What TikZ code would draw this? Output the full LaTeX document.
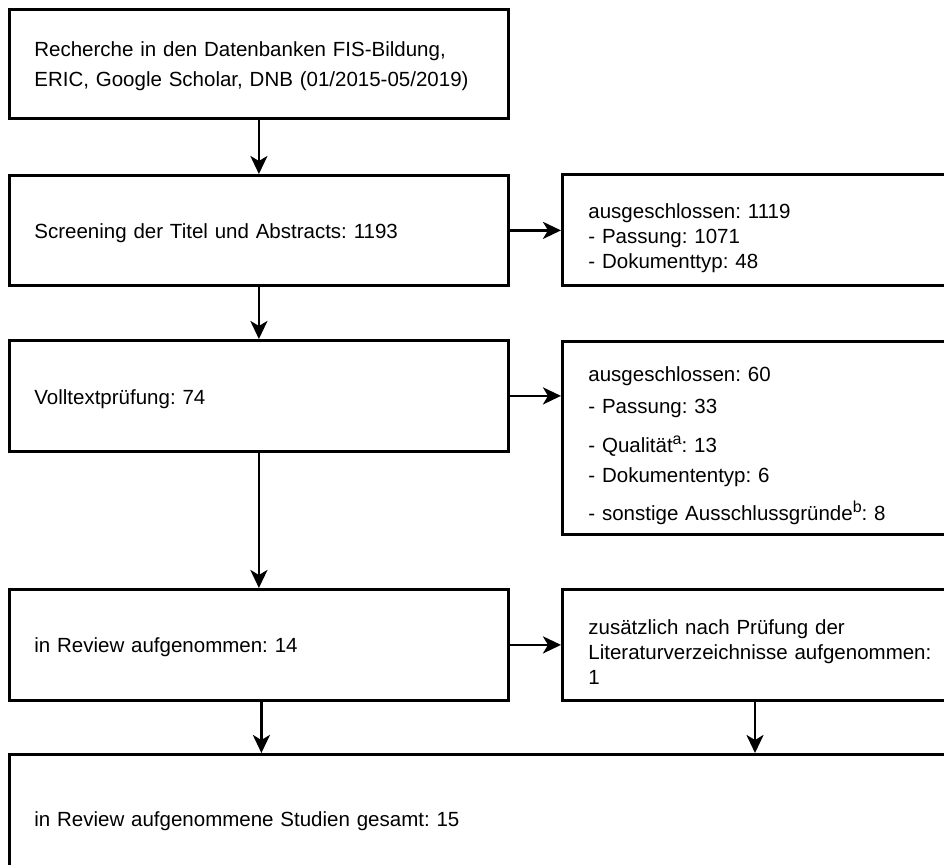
\documentclass[tikz,border=0pt]{standalone}
\usepackage{fontspec}
\setmainfont{Liberation Sans}
\usetikzlibrary{arrows.meta}
\frenchspacing
\newcommand{\supmark}[1]{\raisebox{8pt}{\fontsize{16}{16}\selectfont #1}}
\newcommand{\topgap}{\rule{0pt}{31pt}}
\begin{document}
\begin{tikzpicture}[x=1pt,y=-1pt,
  box/.style={draw=black, line width=2.8pt, rectangle, anchor=north west,
    align=left, inner xsep=25pt, inner ysep=0pt,
    font=\fontsize{20.5}{25}\selectfont\frenchspacing},
  lbox/.style={box, minimum width=499pt, text width=449pt},
  rbox/.style={box, minimum width=412pt, text width=360pt, inner xsep=26pt},
  arr/.style={line width=2.8pt, -{Stealth[length=18pt,width=17pt,inset=5pt]}}]
\useasboundingbox (0,0) rectangle (944,864);

\node[lbox, minimum height=109pt] (b1) at (8,8)
  {\rule{0pt}{19pt}Recherche in den Datenbanken FIS-Bildung,\\[5pt]ERIC, Google Scholar, DNB (01/2015-05/2019)};
\node[lbox, minimum height=110pt] (b2) at (8,174)
  {\rule{0pt}{21pt}Screening der Titel und Abstracts: 1193};
\node[rbox, minimum height=111pt] (r1) at (561,173)
  {\topgap ausgeschlossen: 1119\\- Passung: 1071\\- Dokumenttyp: 48};
\node[lbox, minimum height=111pt] (b3) at (8,339)
  {\rule{0pt}{21pt}Volltextprüfung: 74};
\node[rbox, minimum height=193pt] (r2) at (561,340)
  {\topgap ausgeschlossen: 60\\[7pt]- Passung: 33\\[14pt]- Qualität\supmark{a}: 13\\[5pt]- Dokumententyp: 6\\[13pt]- sonstige Ausschlussgründe\supmark{b}: 8};
\node[lbox, minimum height=111pt] (b4) at (8,588)
  {\rule{0pt}{19pt}in Review aufgenommen: 14};
\node[rbox, minimum height=111pt] (r3) at (561,588)
  {\rule{0pt}{29pt}zusätzlich nach Prüfung der\\Literaturverzeichnisse aufgenommen:\\1};
\node[box, minimum width=941pt, text width=891pt, minimum height=134pt] (b5) at (8,753)
  {in Review aufgenommene Studien gesamt: 15};

\draw[arr] (b1.south) -- (b2.north);
\draw[arr] (b2.east) -- (b2.east -| r1.west);
\draw[arr] (b2.south) -- (b3.north);
\draw[arr] (b3.east) -- (b3.east -| r2.west);
\draw[arr] (b3.south) -- (b4.north);
\draw[arr] (b4.east) -- (b4.east -| r3.west);
\draw[arr] ([xshift=2.5pt]b4.south) -- ([xshift=2.5pt]b4.south |- b5.north);
\coordinate (r3mid) at ([xshift=194pt]r3.south west);
\draw[arr] (r3mid) -- (r3mid |- b5.north);
\end{tikzpicture}
\end{document}
